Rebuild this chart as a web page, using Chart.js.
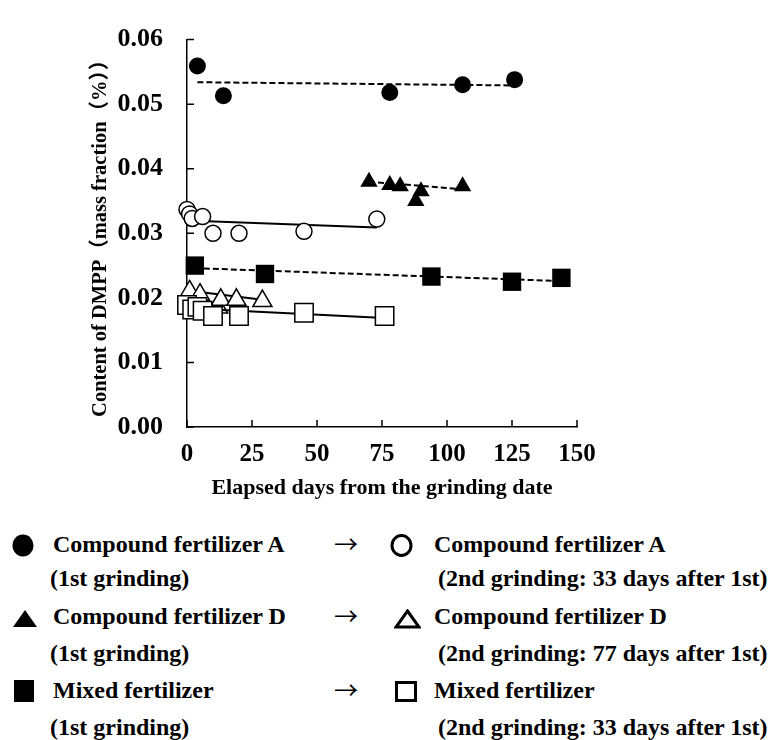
<!DOCTYPE html>
<html><head><meta charset="utf-8">
<script src="https://cdn.jsdelivr.net/npm/chart.js@4.4.1/dist/chart.umd.min.js"></script>
<style>
html,body{margin:0;padding:0;background:#fff;}
#wrap{position:relative;width:778px;height:740px;overflow:hidden;font-family:"Liberation Serif","Times New Roman",serif;font-weight:bold;color:#000;}
canvas{position:absolute;left:0;top:0;}
.lg{position:absolute;font-size:24px;line-height:28px;height:28px;white-space:nowrap;}
.arr{position:absolute;font-family:"Noto Sans CJK JP","DejaVu Sans",sans-serif;font-size:24px;line-height:28px;height:28px;font-weight:normal;}
svg{position:absolute;}
</style></head>
<body><div id="wrap"><canvas id="c" width="778" height="510"></canvas>
<svg style="left:12px;top:534px" width="22" height="23"><ellipse cx="11" cy="11.5" rx="10.5" ry="11" fill="#000"/></svg>
<div class="lg" style="left:53px;top:530px">Compound fertilizer A</div>
<div class="arr" style="left:334px;top:529px">→</div>
<svg style="left:390px;top:534px" width="23" height="23"><ellipse cx="11.5" cy="11.5" rx="9.5" ry="10" fill="none" stroke="#000" stroke-width="3"/></svg>
<div class="lg" style="left:434px;top:530px">Compound fertilizer A</div>
<div class="lg" style="left:50px;top:564px">(1st grinding)</div>
<div class="lg" style="left:438px;top:564px">(2nd grinding: 33 days after 1st)</div>

<svg style="left:12px;top:609px" width="26" height="19"><polygon points="13,1 25,18 1,18" fill="#000"/></svg>
<div class="lg" style="left:53px;top:602px">Compound fertilizer D</div>
<div class="arr" style="left:334px;top:601px">→</div>
<svg style="left:394px;top:609px" width="27" height="20"><polygon points="13.5,2 25,18 2,18" fill="none" stroke="#000" stroke-width="3"/></svg>
<div class="lg" style="left:434px;top:602px">Compound fertilizer D</div>
<div class="lg" style="left:50px;top:639px">(1st grinding)</div>
<div class="lg" style="left:438px;top:639px">(2nd grinding: 77 days after 1st)</div>

<svg style="left:14px;top:680px" width="20" height="22"><rect x="0" y="0" width="20" height="22" fill="#000"/></svg>
<div class="lg" style="left:53px;top:676px">Mixed fertilizer</div>
<div class="arr" style="left:334px;top:675px">→</div>
<svg style="left:395px;top:681px" width="22" height="21"><rect x="1.5" y="1.5" width="19" height="18" fill="none" stroke="#000" stroke-width="3"/></svg>
<div class="lg" style="left:434px;top:676px">Mixed fertilizer</div>
<div class="lg" style="left:50px;top:713px">(1st grinding)</div>
<div class="lg" style="left:438px;top:713px">(2nd grinding: 33 days after 1st)</div>
</div>
<script>
// ---- data ----
const xTicks = [0, 25, 50, 75, 100, 125, 150];
const yTicks = [0.00, 0.01, 0.02, 0.03, 0.04, 0.05, 0.06];

const aFirstDays = [4, 14, 78, 106, 126];
const aFirstVals = [0.0559, 0.0513, 0.0518, 0.0530, 0.0538];
const aFirstTrendDays = [4, 126];
const aFirstTrendVals = [0.0534, 0.0529];

const aSecondDays = [0, 1, 2, 6, 10, 20, 45, 73];
const aSecondVals = [0.0337, 0.0330, 0.0323, 0.0326, 0.0300, 0.0300, 0.0303, 0.0322];
const aSecondTrendDays = [0, 73];
const aSecondTrendVals = [0.0320, 0.0309];

const dFirstDays = [70, 78, 82, 88, 90, 106];
const dFirstVals = [0.0380, 0.0375, 0.0373, 0.0350, 0.0365, 0.0373];
const dFirstTrendDays = [70, 106];
const dFirstTrendVals = [0.0380, 0.0368];

const dSecondDays = [1, 5, 12, 13, 19, 29];
const dSecondVals = [0.0210, 0.0205, 0.0185, 0.0197, 0.0197, 0.0195];
const dSecondTrendDays = [1, 29];
const dSecondTrendVals = [0.0211, 0.0197];

const mFirstDays = [3, 30, 94, 125, 144];
const mFirstVals = [0.0250, 0.0237, 0.0233, 0.0225, 0.0231];
const mFirstTrendDays = [3, 144];
const mFirstTrendVals = [0.0246, 0.0226];

const mSecondDays = [0, 2, 4, 6, 10, 20, 45, 76];
const mSecondVals = [0.0189, 0.0182, 0.0186, 0.0180, 0.0172, 0.0172, 0.0177, 0.0172];
const mSecondTrendDays = [0, 76];
const mSecondTrendVals = [0.0184, 0.0169];

// ---- chart ----
const FAM = '"Liberation Serif", "Times New Roman", "Noto Sans CJK JP", serif';
const pts = (xs, ys) => xs.map((x, i) => ({x: x, y: ys[i]}));
const pointDs = (label, xs, ys, style, r, filled, order) => ({
  label: label, data: pts(xs, ys), pointStyle: style, pointRadius: r, pointHoverRadius: r,
  backgroundColor: filled ? '#000' : '#fff', borderColor: '#000', pointBorderWidth: filled ? 0 : 1.5,
  borderWidth: filled ? 0 : 1.5, showLine: false, clip: false, order: order
});
const lineDs = (xs, ys, dash, order) => ({
  label: '', data: pts(xs, ys), showLine: true, pointRadius: 0, pointHoverRadius: 0,
  borderColor: '#000', borderWidth: 2, borderDash: dash, fill: false, clip: false, order: order
});

const inwardTicks = {
  id: 'inwardTicks',
  beforeDatasetsDraw(chart) {
    const {ctx, chartArea: a, scales: {x, y}} = chart;
    ctx.save(); ctx.strokeStyle = '#000'; ctx.lineWidth = 1.5; ctx.beginPath();
    x.ticks.forEach(t => { const p = x.getPixelForValue(t.value); ctx.moveTo(p, a.bottom); ctx.lineTo(p, a.bottom - 7); });
    y.ticks.forEach(t => { const p = y.getPixelForValue(t.value); ctx.moveTo(a.left, p); ctx.lineTo(a.left + 7, p); });
    ctx.stroke(); ctx.restore();
  }
};

new Chart(document.getElementById('c'), {
  type: 'scatter',
  data: { datasets: [
    lineDs(aFirstTrendDays, aFirstTrendVals, [6, 3], 10),
    lineDs(aSecondTrendDays, aSecondTrendVals, [], 10),
    lineDs(dFirstTrendDays, dFirstTrendVals, [6, 3], 10),
    lineDs(dSecondTrendDays, dSecondTrendVals, [], 10),
    lineDs(mFirstTrendDays, mFirstTrendVals, [6, 3], 10),
    lineDs(mSecondTrendDays, mSecondTrendVals, [], 5),
    pointDs('Compound fertilizer A (1st grinding)', aFirstDays, aFirstVals, 'circle', 8.5, true, 1),
    pointDs('Compound fertilizer A (2nd grinding)', aSecondDays, aSecondVals, 'circle', 8, false, 1),
    pointDs('Compound fertilizer D (1st grinding)', dFirstDays, dFirstVals, 'triangle', 10, true, 1),
    pointDs('Compound fertilizer D (2nd grinding)', dSecondDays, dSecondVals, 'triangle', 11, false, 6),
    pointDs('Mixed fertilizer (1st grinding)', mFirstDays, mFirstVals, 'rect', 13, true, 1),
    pointDs('Mixed fertilizer (2nd grinding)', mSecondDays, mSecondVals, 'rect', 13, false, 0)
  ]},
  options: {
    responsive: false, animation: false, devicePixelRatio: 1,
    layout: { padding: { left: 0, top: 24, right: 201, bottom: 0 } },
    plugins: { legend: { display: false }, tooltip: { enabled: false } },
    scales: {
      x: {
        type: 'linear', min: xTicks[0], max: xTicks[xTicks.length - 1],
        afterBuildTicks: s => { s.ticks = xTicks.map(v => ({value: v})); },
        ticks: { color: '#000', font: { family: FAM, size: 25, weight: 'bold' }, padding: 13, maxRotation: 0,
                 callback: v => String(v) },
        grid: { display: false, drawTicks: false },
        border: { display: true, color: '#000', width: 1.5 },
        title: { display: true, text: 'Elapsed days from the grinding date', color: '#000',
                 font: { family: FAM, size: 22, weight: 'bold' }, padding: { top: 0, bottom: 8 } },
        afterFit: s => { s.height = 83; }
      },
      y: {
        type: 'linear', min: yTicks[0], max: yTicks[yTicks.length - 1],
        afterBuildTicks: s => { s.ticks = yTicks.map(v => ({value: v})); },
        ticks: { color: '#000', font: { family: FAM, size: 26, weight: 'bold' }, padding: 24,
                 callback: v => Number(v).toFixed(2) },
        grid: { display: false, drawTicks: false },
        border: { display: true, color: '#000', width: 1.5 },
        title: { display: true, text: 'Content of DMPP（mass fraction（%））', color: '#000',
                 font: { family: FAM, size: 20.5, weight: 'bold' }, padding: { top: 88, bottom: 0 } },
        afterFit: s => { s.width = 187; }
      }
    }
  },
  plugins: [inwardTicks]
});
</script>
</body></html>
